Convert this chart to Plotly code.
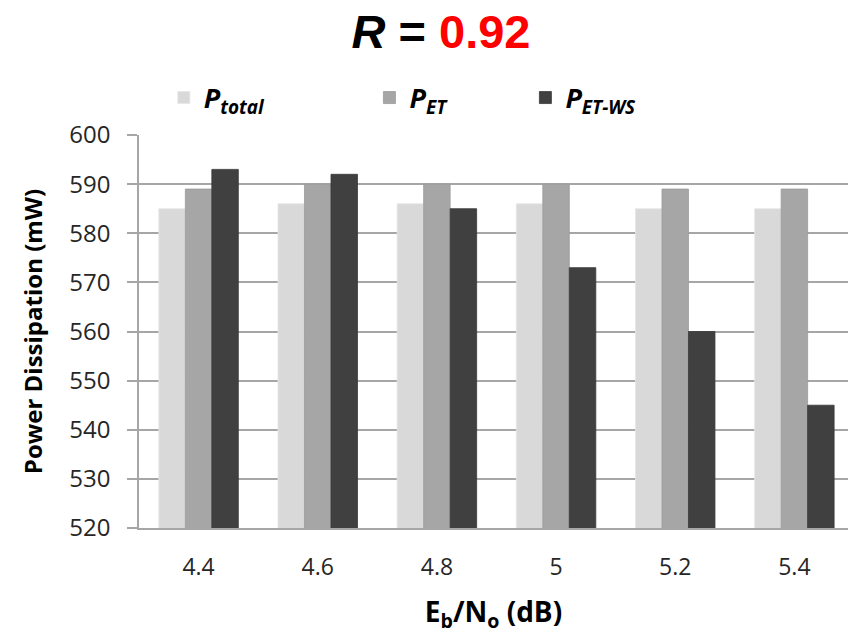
import plotly.graph_objects as go

categories = ["4.4", "4.6", "4.8", "5", "5.2", "5.4"]
p_total = [585, 586, 586, 586, 585, 585]
p_et = [589, 590, 590, 590, 589, 589]
p_et_ws = [593, 592, 585, 573, 560, 545]
y_ticks = [520, 530, 540, 550, 560, 570, 580, 590, 600]

series_names = [
    "<b><i>P</i></b><sub><b><i>total</i></b></sub>",
    "<b><i>P</i></b><sub><b><i>ET</i></b></sub>",
    "<b><i>P</i></b><sub><b><i>ET-WS</i></b></sub>",
]
series_values = [p_total, p_et, p_et_ws]
colors = ["#d9d9d9", "#a6a6a6", "#404040"]
line_colors = ["#e6e6e6", "#9a9a9a", "#3a3a3a"]
legend_ids = ["legend", "legend2", "legend3"]

FONT = "Open Sans"

fig = go.Figure()
for name, vals, c, lc, lg in zip(series_names, series_values, colors, line_colors, legend_ids):
    fig.add_trace(go.Bar(
        x=categories, y=vals, name=name,
        marker=dict(color=c, line=dict(color=lc, width=0.8)),
        legend=lg, showlegend=True,
    ))

legend_common = dict(
    orientation="h", yref="container", yanchor="middle", y=1 - 98 / 636,
    xanchor="left",
    bgcolor="rgba(0,0,0,0)", font=dict(family=FONT, size=27, color="#000000"),
)
fig.update_layout(
    width=848, height=636,
    margin=dict(l=139, r=0, t=135, b=108, autoexpand=False),
    paper_bgcolor="white", plot_bgcolor="white",
    showlegend=True,
    barmode="group", bargap=0.333, bargroupgap=0,
    title=dict(
        text="<b><i>R</i> = <span style='color:#ff0000'>0.92</span></b>",
        x=441 / 848, xanchor="center", y=1 - 32 / 636, yanchor="middle",
        font=dict(family="Liberation Sans", size=47, color="#000000"),
    ),
    legend=dict(x=0.035, **legend_common),
    legend2=dict(x=0.325, **legend_common),
    legend3=dict(x=0.545, **legend_common),
    xaxis=dict(
        type="category", range=[-0.5, 5.45], automargin=False,
        showline=True, linecolor="#a6a6a6", linewidth=1.5,
        ticks="", showgrid=False,
        tickfont=dict(family=FONT, size=23, color="#262626"),
        ticklabelstandoff=18,
        title=dict(text="<b>E<sub>b</sub>/N<sub>o</sub> (dB)</b>", standoff=21,
                   font=dict(family=FONT, size=28, color="#000000")),
    ),
    yaxis=dict(
        range=[520, 600], tickvals=y_ticks, automargin=False,
        showline=True, linecolor="#a6a6a6", linewidth=1.5,
        ticks="outside", ticklen=10, tickcolor="#a6a6a6", tickwidth=1.5,
        showgrid=True, gridcolor="#a6a6a6", gridwidth=1.5,
        zeroline=False,
        tickfont=dict(family=FONT, size=24, color="#262626"),
        ticklabelstandoff=12,
        title=dict(text="<b>Power Dissipation (mW)</b>", standoff=20,
                   font=dict(family=FONT, size=24, color="#000000")),
    ),
)

fig.write_html(
    "out.html",
    config={"displayModeBar": False},
    post_script="document.body.style.margin='0';document.body.style.overflow='hidden';",
)
